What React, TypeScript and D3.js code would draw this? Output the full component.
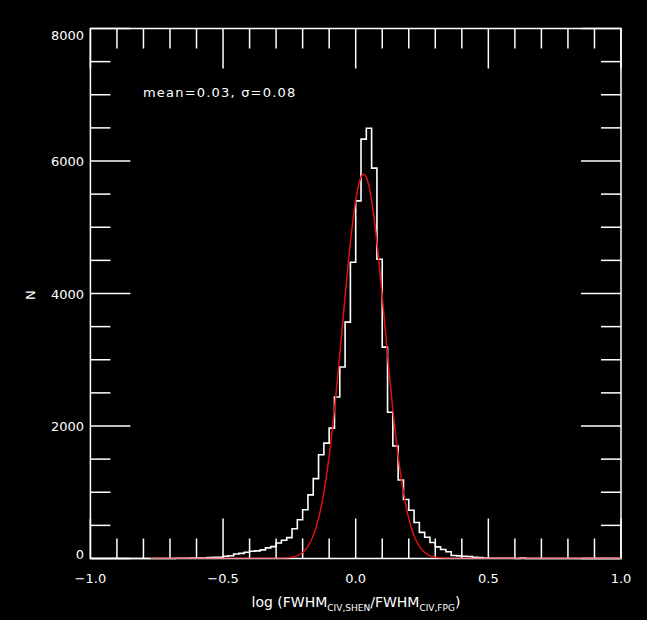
import React from 'react';
import * as d3 from 'd3';

// Histogram: bins of width 0.02 starting at binStart
const binStart = -0.7;
const binWidth = 0.02;
const counts = [
  0, 3, 4, 4, 5, 6, 8, 15, 18, 20,
  33, 42, 68, 78, 94, 110, 115, 130, 160, 180,
  235, 275, 315, 450, 585, 735, 960, 1205, 1565, 1742,
  1968, 2437, 2890, 3568, 4472, 5398, 6330, 6495, 5892, 4518,
  3190, 2207, 1698, 1185, 890, 728, 543, 395, 320, 242,
  175, 135, 103, 45, 40, 33, 30, 18, 16, 5,
  4, 4, 3, 3, 3, 0, 5, 0,
];

// Gaussian fit parameters (as annotated on the chart)
const fitMean = 0.03;
const fitSigma = 0.08;
const fitPeak = 5800;
const fitRange = [-0.775, 1.0];

const xMajorTicks = [-1.0, -0.5, 0.0, 0.5, 1.0];
const xTickLabels = ['\u22121.0', '\u22120.5', '0.0', '0.5', '1.0'];
const yMajorTicks = [0, 2000, 4000, 6000, 8000];
const yTickLabels = ['0', '2000', '4000', '6000', '8000'];
const annotation = 'mean=0.03, \u03c3=0.08';

const W = 647;
const H = 620;
const left = 90.4;
const right = 621;
const top = 28.5;
const bottom = 558.5;

export default function App() {
  const x = d3.scaleLinear().domain([-1, 1]).range([left, right]);
  const y = d3.scaleLinear().domain([0, 8000]).range([bottom, top]);

  const xMinor = d3.range(-10, 11).map((i) => i / 10).filter((v) => Math.abs(v * 2 - Math.round(v * 2)) > 1e-6);
  const yMinor = d3.range(0, 8001, 500).filter((v) => v % 2000 !== 0);

  // histogram step path
  const pts: [number, number][] = [];
  pts.push([x(-1), y(0)]);
  pts.push([x(binStart), y(0)]);
  counts.forEach((c, i) => {
    const e0 = binStart + i * binWidth;
    const e1 = e0 + binWidth;
    pts.push([x(e0), y(c)]);
    pts.push([x(e1), y(c)]);
  });
  const lastEdge = binStart + counts.length * binWidth;
  pts.push([x(lastEdge), y(0)]);
  pts.push([x(1), y(0)]);
  const histPath = d3.line()(pts) || '';

  const fitXs = d3.range(fitRange[0], fitRange[1] + 1e-9, 0.0025);
  const fitLine = d3
    .line<number>()
    .x((v) => x(v))
    .y((v) => y(fitPeak * Math.exp(-((v - fitMean) ** 2) / (2 * fitSigma * fitSigma))));
  const fitPath = fitLine(fitXs) || '';

  const font = "'DejaVu Sans', Verdana, sans-serif";
  const fs = 13;
  const majLen = 40;
  const minLen = 20;
  const stroke = '#ffffff';

  const yLabelBaseline = (v: number) => {
    const py = y(v);
    if (py - 5 < top) return top + 11.5;
    if (py + 5 > bottom) return bottom + 0.5;
    return py + 5;
  };

  return (
    <svg
      width={W}
      height={H}
      style={{ position: 'absolute', left: 0, top: 0, background: '#000' }}
      fontFamily={font}
    >
      <rect x={0} y={0} width={W} height={H} fill="#000" />
      <defs>
        <clipPath id="plotclip">
          <rect x={left} y={top} width={right - left} height={bottom - top} />
        </clipPath>
      </defs>

      {/* histogram */}
      <path d={histPath} fill="none" stroke={stroke} strokeWidth={1.6} />

      {/* frame */}
      <rect x={left} y={top} width={right - left} height={bottom - top} fill="none" stroke={stroke} strokeWidth={1.5} />

      {/* x ticks */}
      {xMajorTicks.map((v) => (
        <g key={'xm' + v}>
          <line x1={x(v)} x2={x(v)} y1={bottom} y2={bottom - majLen} stroke={stroke} strokeWidth={1.5} />
          <line x1={x(v)} x2={x(v)} y1={top} y2={top + majLen} stroke={stroke} strokeWidth={1.5} />
        </g>
      ))}
      {xMinor.map((v) => (
        <g key={'xn' + v}>
          <line x1={x(v)} x2={x(v)} y1={bottom} y2={bottom - minLen} stroke={stroke} strokeWidth={1.5} />
          <line x1={x(v)} x2={x(v)} y1={top} y2={top + minLen} stroke={stroke} strokeWidth={1.5} />
        </g>
      ))}
      {/* y ticks */}
      {yMajorTicks.map((v) => (
        <g key={'ym' + v}>
          <line x1={left} x2={left + majLen} y1={y(v)} y2={y(v)} stroke={stroke} strokeWidth={1.5} />
          <line x1={right} x2={right - majLen} y1={y(v)} y2={y(v)} stroke={stroke} strokeWidth={1.5} />
        </g>
      ))}
      {yMinor.map((v) => (
        <g key={'yn' + v}>
          <line x1={left} x2={left + minLen} y1={y(v)} y2={y(v)} stroke={stroke} strokeWidth={1.5} />
          <line x1={right} x2={right - minLen} y1={y(v)} y2={y(v)} stroke={stroke} strokeWidth={1.5} />
        </g>
      ))}

      {/* fit */}
      <path d={fitPath} fill="none" stroke="#dd1111" strokeWidth={1.5} clipPath="url(#plotclip)" />

      {/* tick labels */}
      {xMajorTicks.map((v, i) => (
        <text key={'xl' + v} x={x(v)} y={583} fill={stroke} fontSize={fs} textAnchor="middle">
          {xTickLabels[i]}
        </text>
      ))}
      {yMajorTicks.map((v, i) => (
        <text key={'yl' + v} x={84} y={yLabelBaseline(v)} fill={stroke} fontSize={fs} textAnchor="end">
          {yTickLabels[i]}
        </text>
      ))}

      {/* axis titles */}
      <text x={30} y={295} fill={stroke} fontSize={fs} textAnchor="middle" transform="rotate(-90 30 295)" dy={5}>
        N
      </text>
      <text x={356} y={607} fill={stroke} fontSize={14} textAnchor="middle">
        log (FWHM
        <tspan fontSize={9} dy={4}>CIV,SHEN</tspan>
        <tspan dy={-4}>/FWHM</tspan>
        <tspan fontSize={9} dy={4}>CIV,FPG</tspan>
        <tspan dy={-4}>)</tspan>
      </text>

      {/* annotation */}
      <text x={143} y={97} fill={stroke} fontSize={fs} letterSpacing={1.2}>
        {annotation}
      </text>
    </svg>
  );
}
